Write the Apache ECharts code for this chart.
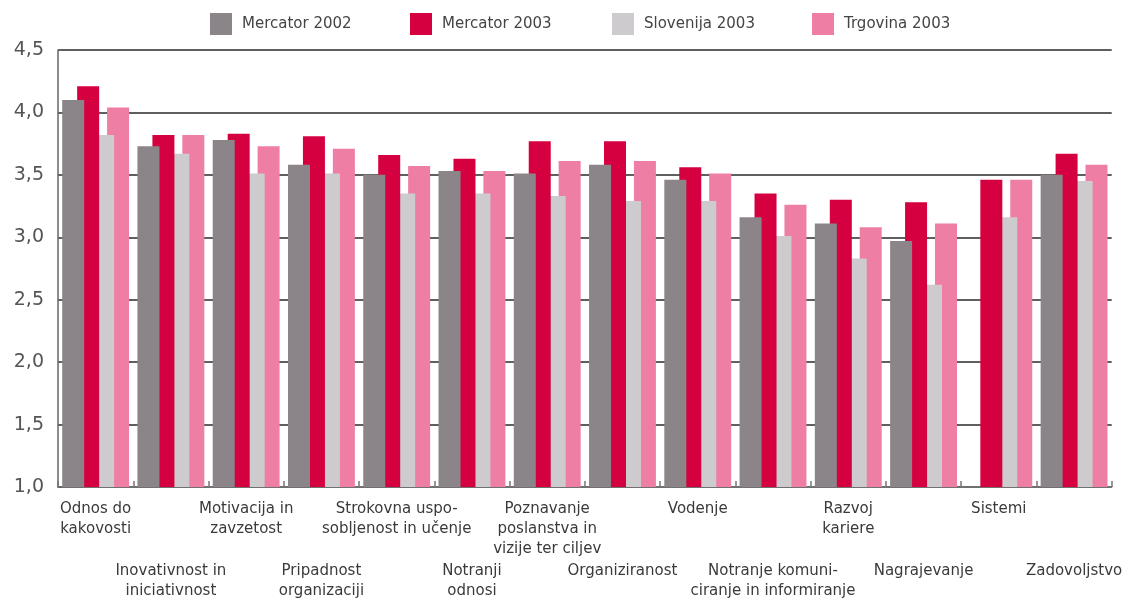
<!DOCTYPE html>
<html>
<head>
<meta charset="utf-8">
<script src="https://cdn.jsdelivr.net/npm/echarts@6/dist/echarts.min.js"></script>
<style>
  html, body { margin: 0; padding: 0; background: #fff; }
  #chart { width: 1125px; height: 601px; }
</style>
</head>
<body>
<div id="chart"></div>
<script>
// Survey categories (two-row labels alternate below the axis)
const categories = [
  'Odnos do\nkakovosti',
  'Inovativnost in\niniciativnost',
  'Motivacija in\nzavzetost',
  'Pripadnost\norganizaciji',
  'Strokovna uspo-\nsobljenost in učenje',
  'Notranji\nodnosi',
  'Poznavanje\nposlanstva in\nvizije ter ciljev',
  'Organiziranost',
  'Vodenje',
  'Notranje komuni-\nciranje in informiranje',
  'Razvoj\nkariere',
  'Nagrajevanje',
  'Sistemi',
  'Zadovoljstvo'
];

const seriesNames = ['Mercator 2002', 'Mercator 2003', 'Slovenija 2003', 'Trgovina 2003'];

const mercator2002 = [4.10, 3.73, 3.78, 3.58, 3.50, 3.53, 3.51, 3.58, 3.46, 3.16, 3.11, 2.97, null, 3.50];
const mercator2003 = [4.21, 3.82, 3.83, 3.81, 3.66, 3.63, 3.77, 3.77, 3.56, 3.35, 3.30, 3.28, 3.46, 3.67];
const slovenija2003 = [3.82, 3.67, 3.51, 3.51, 3.35, 3.35, 3.33, 3.29, 3.29, 3.01, 2.83, 2.62, 3.16, 3.45];
const trgovina2003 = [4.04, 3.82, 3.73, 3.71, 3.57, 3.53, 3.61, 3.61, 3.51, 3.26, 3.08, 3.11, 3.46, 3.58];

const yTicks = { min: 1.0, max: 4.5, step: 0.5 };

const colors = ['#8b8589', '#d5003f', '#cdcbce', '#ef7ea4'];
const values = [mercator2002, mercator2003, slovenija2003, trgovina2003];

const fontFamily = '"DejaVu Sans", "Liberation Sans", sans-serif';

const chart = echarts.init(document.getElementById('chart'), null, { renderer: 'canvas' });

const legendLeft = [210, 410, 612, 812];

const option = {
  animation: false,
  backgroundColor: '#ffffff',
  legend: seriesNames.map((name, i) => ({
    data: [name],
    left: legendLeft[i],
    top: 13,
    padding: 0,
    icon: 'rect',
    itemWidth: 22,
    itemHeight: 22,
    selectedMode: false,
    textStyle: {
      fontFamily: fontFamily,
      fontSize: 15,
      color: '#444',
      padding: [0, 0, 0, 5]
    }
  })),
  grid: { left: 58, right: 7, top: 50, bottom: 103, containLabel: false },
  xAxis: [
    {
      type: 'category',
      data: categories,
      boundaryGap: true,
      axisLine: { show: true, lineStyle: { color: '#777', width: 1.5 } },
      axisTick: { show: true, inside: true, length: 6, interval: 0, alignWithLabel: false, lineStyle: { color: '#777', width: 1.5 } },
      axisLabel: {
        interval: (idx) => idx % 2 === 0,
        margin: 12,
        fontFamily: fontFamily,
        fontSize: 15,
        lineHeight: 20,
        color: '#3a3a3a'
      }
    },
    {
      type: 'category',
      data: categories,
      position: 'bottom',
      boundaryGap: true,
      axisLine: { show: false },
      axisTick: { show: false },
      axisLabel: {
        interval: (idx) => idx % 2 === 1,
        margin: 74,
        fontFamily: fontFamily,
        fontSize: 15,
        lineHeight: 20,
        color: '#3a3a3a'
      }
    }
  ],
  yAxis: {
    type: 'value',
    min: yTicks.min,
    max: yTicks.max,
    interval: yTicks.step,
    axisLine: { show: true, lineStyle: { color: '#666', width: 1.5 } },
    axisTick: { show: true, inside: true, length: 4, lineStyle: { color: '#666', width: 1.5 } },
    splitLine: { show: true, lineStyle: { color: '#5f5f5f', width: 1.8 } },
    axisLabel: {
      margin: 14,
      fontFamily: fontFamily,
      fontSize: 19,
      color: '#555',
      formatter: (v) => v.toFixed(1).replace('.', ',')
    }
  },
  series: seriesNames.map((name, i) => ({
    name: name,
    type: 'bar',
    data: values[i],
    barWidth: 22,
    barGap: '-32%',
    z: 10 - i,
    itemStyle: { color: colors[i] },
    emphasis: { disabled: true }
  }))
};

chart.setOption(option);
</script>
</body>
</html>
